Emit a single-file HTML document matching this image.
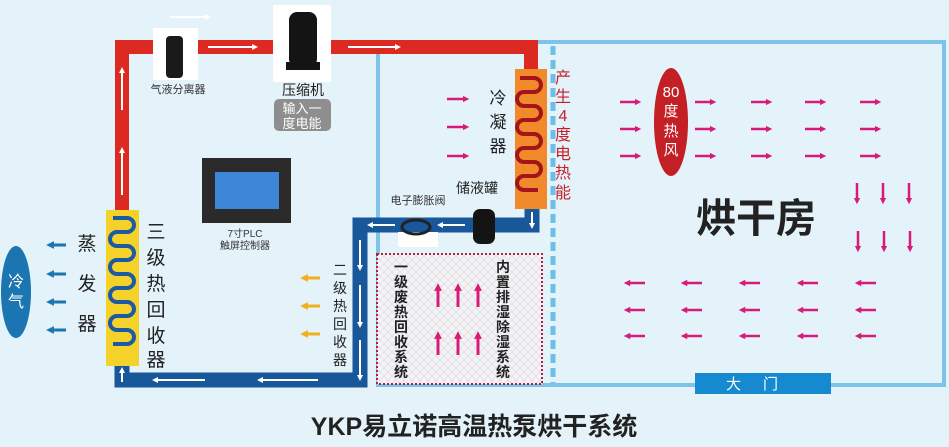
<!DOCTYPE html>
<html><head><meta charset="utf-8"><style>
body{margin:0;width:949px;height:447px;overflow:hidden;background:#e4f2fa;}
svg{display:block}
text{font-family:"Liberation Sans","Noto Sans CJK SC",sans-serif;}
</style></head><body>
<svg width="949" height="447" viewBox="0 0 949 447" xmlns="http://www.w3.org/2000/svg">
<defs>
<marker id="mg" viewBox="0 0 10 10" refX="5" refY="5" markerWidth="2.6" markerHeight="2.6" orient="auto"><path d="M0,0L10,5L0,10z" fill="#d81b7a"/></marker>
<marker id="mw" viewBox="0 0 10 10" refX="5" refY="5" markerWidth="3" markerHeight="3" orient="auto"><path d="M0,0L10,5L0,10z" fill="#fff"/></marker>
<marker id="mb" viewBox="0 0 10 10" refX="5" refY="5" markerWidth="2.6" markerHeight="2.6" orient="auto"><path d="M0,0L10,5L0,10z" fill="#1a75b0"/></marker>
<marker id="my" viewBox="0 0 10 10" refX="5" refY="5" markerWidth="2.6" markerHeight="2.6" orient="auto"><path d="M0,0L10,5L0,10z" fill="#f0b020"/></marker>
<pattern id="chk" width="8" height="8" patternUnits="userSpaceOnUse"><rect width="8" height="8" fill="#f4f4f6"/><path d="M0,0L8,8M8,0L0,8" stroke="#e4e0e6" stroke-width="1"/></pattern>
</defs>
<rect x="378" y="42" width="566" height="343" fill="none" stroke="#7ec3e8" stroke-width="4"/>
<line x1="553" y1="46" x2="553" y2="383" stroke="#6cbfe6" stroke-width="5" stroke-dasharray="9,5"/>
<path d="M122,212 V47 H531 V72" fill="none" stroke="#dc2a22" stroke-width="14"/>
<line x1="122" y1="195" x2="122" y2="150" stroke="#fff" stroke-width="2" marker-end="url(#mw)"/>
<line x1="122" y1="110" x2="122" y2="70" stroke="#fff" stroke-width="2" marker-end="url(#mw)"/>
<line x1="208" y1="47" x2="255" y2="47" stroke="#fff" stroke-width="2" marker-end="url(#mw)"/>
<line x1="348" y1="47" x2="398" y2="47" stroke="#fff" stroke-width="2" marker-end="url(#mw)"/>
<line x1="170" y1="17" x2="208" y2="17" stroke="#fff" stroke-width="2" marker-end="url(#mw)"/>
<path d="M532,206 V225 H360 V380 H122 V366" fill="none" stroke="#17579a" stroke-width="15"/>
<g stroke="#fff" stroke-width="2">
<line x1="532" y1="212" x2="532" y2="226" marker-end="url(#mw)"/>
<line x1="465" y1="225" x2="440" y2="225" marker-end="url(#mw)"/>
<line x1="395" y1="225" x2="370" y2="225" marker-end="url(#mw)"/>
<line x1="360" y1="240" x2="360" y2="268" marker-end="url(#mw)"/>
<line x1="360" y1="285" x2="360" y2="325" marker-end="url(#mw)"/>
<line x1="360" y1="340" x2="360" y2="378" marker-end="url(#mw)"/>
<line x1="318" y1="380" x2="260" y2="380" marker-end="url(#mw)"/>
<line x1="205" y1="380" x2="155" y2="380" marker-end="url(#mw)"/>
<line x1="122" y1="382" x2="122" y2="370" marker-end="url(#mw)"/>
</g>
<rect x="153" y="28" width="45" height="52" fill="#fff"/>
<rect x="166" y="36" width="17" height="42" rx="4" fill="#1a1a1a"/>
<text x="178" y="93" font-size="11" fill="#333" text-anchor="middle">气液分离器</text>
<rect x="273" y="5" width="58" height="77" fill="#fff"/>
<rect x="289" y="12" width="28" height="55" rx="8" fill="#141414"/>
<rect x="286" y="62" width="34" height="8" fill="#141414"/>
<text x="303" y="95" font-size="14" fill="#222" text-anchor="middle">压缩机</text>
<rect x="274" y="99" width="57" height="32" rx="5" fill="#8e8e8e"/>
<text x="302" y="113" font-size="13" fill="#fff" text-anchor="middle">输入一</text>
<text x="302" y="128" font-size="13" fill="#fff" text-anchor="middle">度电能</text>
<rect x="202" y="158" width="89" height="65" fill="#2a2a2a"/>
<rect x="215" y="172" width="64" height="37" fill="#3d86d8"/>
<text x="245" y="237" font-size="10" fill="#333" text-anchor="middle">7寸PLC</text>
<text x="245" y="249" font-size="10" fill="#333" text-anchor="middle">触屏控制器</text>
<rect x="106" y="210" width="33" height="156" fill="#f5d22a"/>
<path d="M113,218 h14 a7,7 0 0 1 0,14 h-10 a7,7 0 0 0 0,14 h10 a7,7 0 0 1 0,14 h-10 a7,7 0 0 0 0,14 h10 a7,7 0 0 1 0,14 h-10 a7,7 0 0 0 0,14 h10 a7,7 0 0 1 0,14 h-10 a7,7 0 0 0 0,14 h10 a7,7 0 0 1 0,14 h-14" fill="none" stroke="#1c5aa6" stroke-width="4"/>
<g font-size="19" fill="#222" text-anchor="middle">
<text x="87" y="250">蒸</text><text x="87" y="290">发</text><text x="87" y="330">器</text>
<text x="156" y="238">三</text><text x="156" y="264">级</text><text x="156" y="290">热</text><text x="156" y="316">回</text><text x="156" y="342">收</text><text x="156" y="358" dy="8">器</text>
</g>
<ellipse cx="16" cy="292" rx="15" ry="46" fill="#1a75b0"/>
<text x="16" y="287" font-size="16" fill="#fff" text-anchor="middle">冷</text>
<text x="16" y="307" font-size="16" fill="#fff" text-anchor="middle">气</text>
<g stroke="#1a75b0" stroke-width="3">
<line x1="66" y1="245" x2="50" y2="245" marker-end="url(#mb)"/>
<line x1="66" y1="274" x2="50" y2="274" marker-end="url(#mb)"/>
<line x1="66" y1="302" x2="50" y2="302" marker-end="url(#mb)"/>
<line x1="66" y1="330" x2="50" y2="330" marker-end="url(#mb)"/>
</g>
<g stroke="#f0b020" stroke-width="3">
<line x1="320" y1="278" x2="304" y2="278" marker-end="url(#my)"/>
<line x1="320" y1="306" x2="304" y2="306" marker-end="url(#my)"/>
<line x1="320" y1="334" x2="304" y2="334" marker-end="url(#my)"/>
</g>
<g font-size="14" fill="#222" text-anchor="middle">
<text x="340" y="275">二</text><text x="340" y="293">级</text><text x="340" y="311">热</text><text x="340" y="329">回</text><text x="340" y="347">收</text><text x="340" y="365">器</text>
</g>
<text x="418" y="204" font-size="11" fill="#333" text-anchor="middle">电子膨胀阀</text>
<rect x="398" y="232" width="40" height="15" fill="#fff"/>
<ellipse cx="416" cy="227" rx="14" ry="7" fill="none" stroke="#222" stroke-width="3"/>
<text x="477" y="193" font-size="14" fill="#222" text-anchor="middle">储液罐</text>
<rect x="473" y="209" width="22" height="35" rx="7" fill="#141414"/>
<rect x="377" y="254" width="165" height="130" fill="url(#chk)" stroke="#b02040" stroke-width="2" stroke-dasharray="2,2"/>
<g font-size="14" font-weight="bold" fill="#222" text-anchor="middle">
<text x="401" y="272">一</text><text x="401" y="287">级</text><text x="401" y="302">废</text><text x="401" y="317">热</text><text x="401" y="332">回</text><text x="401" y="347">收</text><text x="401" y="362">系</text><text x="401" y="377">统</text>
<text x="503" y="272">内</text><text x="503" y="287">置</text><text x="503" y="302">排</text><text x="503" y="317">湿</text><text x="503" y="332">除</text><text x="503" y="347">湿</text><text x="503" y="362">系</text><text x="503" y="377">统</text>
</g>
<g stroke="#d81b7a" stroke-width="3">
<line x1="438" y1="307" x2="438" y2="287" marker-end="url(#mg)"/><line x1="458" y1="307" x2="458" y2="287" marker-end="url(#mg)"/><line x1="478" y1="307" x2="478" y2="287" marker-end="url(#mg)"/>
<line x1="438" y1="355" x2="438" y2="335" marker-end="url(#mg)"/><line x1="458" y1="355" x2="458" y2="335" marker-end="url(#mg)"/><line x1="478" y1="355" x2="478" y2="335" marker-end="url(#mg)"/>
</g>
<rect x="515" y="69" width="32" height="140" fill="#f08a2a"/>
<path d="M520,78 h14 a7,7 0 0 1 0,14 h-10 a7,7 0 0 0 0,14 h10 a7,7 0 0 1 0,14 h-10 a7,7 0 0 0 0,14 h10 a7,7 0 0 1 0,14 h-10 a7,7 0 0 0 0,14 h10 a7,7 0 0 1 0,14 h-10 a7,7 0 0 0 0,14 h14" fill="none" stroke="#a5141a" stroke-width="4"/>
<g font-size="17" fill="#222" text-anchor="middle"><text x="498" y="104">冷</text><text x="498" y="128">凝</text><text x="498" y="152">器</text></g>
<g font-size="16" fill="#c8202a" text-anchor="middle">
<text x="563" y="83">产</text><text x="563" y="102">生</text><text x="563" y="121">4</text><text x="563" y="140">度</text><text x="563" y="159">电</text><text x="563" y="178">热</text><text x="563" y="198">能</text>
</g>
<g stroke="#d81b7a" stroke-width="2.5">
<line x1="447" y1="99" x2="466" y2="99" marker-end="url(#mg)"/><line x1="447" y1="127" x2="466" y2="127" marker-end="url(#mg)"/><line x1="447" y1="156" x2="466" y2="156" marker-end="url(#mg)"/>
<line x1="620" y1="102" x2="638" y2="102" marker-end="url(#mg)"/><line x1="620" y1="129" x2="638" y2="129" marker-end="url(#mg)"/><line x1="620" y1="156" x2="638" y2="156" marker-end="url(#mg)"/>
</g>
<ellipse cx="671" cy="122" rx="17" ry="54" fill="#c41f24"/>
<g font-size="15" fill="#fff" text-anchor="middle"><text x="671" y="97">80</text><text x="671" y="116">度</text><text x="671" y="136">热</text><text x="671" y="155">风</text></g>
<g stroke="#d81b7a" stroke-width="2.5">
<g id="rr"><line x1="695" y1="102" x2="713" y2="102" marker-end="url(#mg)"/><line x1="695" y1="129" x2="713" y2="129" marker-end="url(#mg)"/><line x1="695" y1="156" x2="713" y2="156" marker-end="url(#mg)"/></g>
<use href="#rr" x="56"/><use href="#rr" x="110"/><use href="#rr" x="165"/>
<g id="dd"><line x1="857" y1="183" x2="857" y2="201" marker-end="url(#mg)"/><line x1="883" y1="183" x2="883" y2="201" marker-end="url(#mg)"/><line x1="909" y1="183" x2="909" y2="201" marker-end="url(#mg)"/></g>
<use href="#dd" x="1" y="48"/>
<g id="ll"><line x1="645" y1="283" x2="627" y2="283" marker-end="url(#mg)"/><line x1="645" y1="310" x2="627" y2="310" marker-end="url(#mg)"/><line x1="645" y1="336" x2="627" y2="336" marker-end="url(#mg)"/></g>
<use href="#ll" x="57"/><use href="#ll" x="115"/><use href="#ll" x="173"/><use href="#ll" x="231"/>
</g>
<text x="756" y="232" font-size="40" font-weight="bold" fill="#222" text-anchor="middle">烘干房</text>
<rect x="695" y="373" width="136" height="21" fill="#168ad0"/>
<text x="763" y="389" font-size="15" fill="#fff" text-anchor="middle" letter-spacing="22">大门</text>
<text x="474" y="435" font-size="25" font-weight="bold" fill="#222" text-anchor="middle">YKP易立诺高温热泵烘干系统</text>
</svg>
</body></html>
